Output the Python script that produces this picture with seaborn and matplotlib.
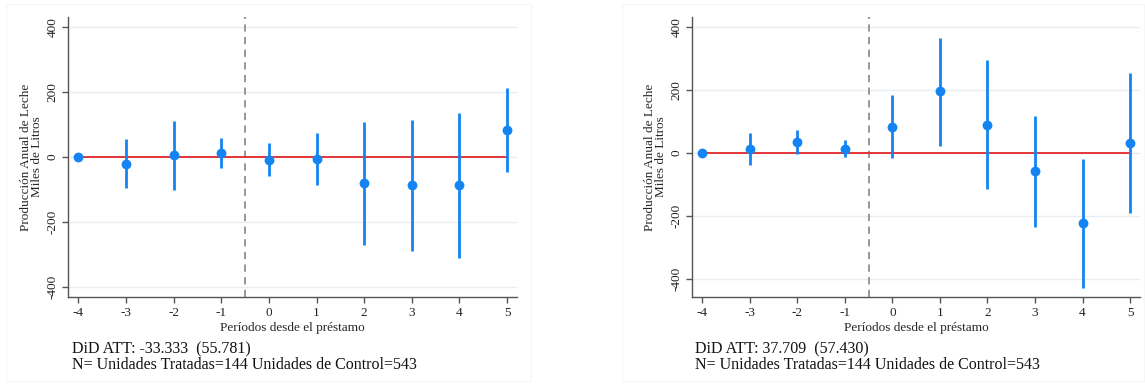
import matplotlib
matplotlib.use("Agg")
import matplotlib.pyplot as plt
from matplotlib.patches import Rectangle
import seaborn as sns
import pandas as pd

periods = [-4, -3, -2, -1, 0, 1, 2, 3, 4, 5]
tick_labels = ["-4", "-3", "-2", "-1", "0", "1", "2", "3", "4", "5"]

left_est = [0, -20.6, 5.1, 12.4, -10.3, -6.2, -81.4, -87.5, -87.5, 82.4]
left_lo = [0, -96.8, -103, -34, -59.7, -86.5, -271, -288, -312, -45.3]
left_hi = [0, 56.6, 112, 58.7, 43.3, 74.2, 108, 114, 136, 211]

right_est = [0, 12.8, 35, 13.8, 84, 195.5, 89.3, -58.4, -223, 31.9]
right_lo = [0, -38.3, -3.2, -13.8, -17, 23.4, -115, -235, -427, -191]
right_hi = [0, 62.7, 74.4, 42.5, 185, 366.6, 294, 118, -19, 254]

y_ticks = [-400, -200, 0, 200, 400]
left_note = "DiD ATT: -33.333  (55.781)\nN= Unidades Tratadas=144 Unidades de Control=543"
right_note = "DiD ATT: 37.709  (57.430)\nN= Unidades Tratadas=144 Unidades de Control=543"
ylabel = "Producción Anual de Leche\nMiles de Litros"
xlabel = "Períodos desde el préstamo"

sns.set_theme(style="white")
plt.rcParams["font.family"] = ["Liberation Serif", "DejaVu Serif"]

W, H = 1145, 385
fig = plt.figure(figsize=(W / 100, H / 100), dpi=100)
fig.patch.set_facecolor("white")

# faint panel frames
for (x0, x1) in [(6, 531), (622, 1144)]:
    fig.patches.append(Rectangle((x0 / W, 4 / H), (x1 - x0) / W, (H - 8) / H,
                                 transform=fig.transFigure, fill=False,
                                 edgecolor="#f6f6f6", linewidth=0.8))

BLUE = "#1384f2"
RED = "#e3262a"

panels = [
    dict(est=left_est, lo=left_lo, hi=left_hi, note=left_note,
         rect=[68 / W, 1 - 297 / H, (517 - 68) / W, (297 - 17) / H],
         ylim=(-431, 431), textx=72 / W),
    dict(est=right_est, lo=right_lo, hi=right_hi, note=right_note,
         rect=[692 / W, 1 - 297 / H, (1140 - 692) / W, (297 - 17) / H],
         ylim=(-457, 432), textx=695 / W),
]

for p in panels:
    ax = fig.add_axes(p["rect"])
    df = pd.DataFrame({"period": periods, "est": p["est"], "lo": p["lo"], "hi": p["hi"]})
    ax.set_xlim(-4.22, 5.21)
    ax.set_ylim(*p["ylim"])
    for yv in y_ticks:
        ax.axhline(yv, color="#e6eef1", lw=1.0, zorder=0)
    ax.axvline(-0.5, color="#8f8f8f", lw=1.3, ls=(0, (4, 3)), zorder=1)
    sns.lineplot(data=pd.DataFrame({"period": [periods[0], periods[-1]], "z": [0, 0]}),
                 x="period", y="z", color=RED, lw=1.3, ax=ax, zorder=2)
    ax.vlines(df["period"], df["lo"], df["hi"], color=BLUE, lw=2.0, zorder=3)
    sns.scatterplot(data=df, x="period", y="est", color=BLUE, s=50, edgecolor=BLUE,
                    linewidth=0, ax=ax, zorder=4)
    ax.set_xticks(periods)
    ax.set_xticklabels(tick_labels, fontsize=9.5)
    ax.set_yticks(y_ticks)
    ax.set_yticklabels([str(v) for v in y_ticks], fontsize=9.5, rotation=90, va="center")
    ax.set_xlabel(xlabel, fontsize=9.5, labelpad=2)
    ax.set_ylabel(ylabel, fontsize=9.5, labelpad=2, linespacing=0.95)
    for s in ["top", "right"]:
        ax.spines[s].set_visible(False)
    for s in ["left", "bottom"]:
        ax.spines[s].set_color("#555555")
        ax.spines[s].set_linewidth(1.0)
    ax.tick_params(axis="both", which="both", direction="out", length=4, width=1.0,
                   color="#555555", labelcolor="#222222", pad=3, bottom=True, left=True)
    ax.grid(False)
    ax.set_facecolor("white")
    fig.text(p["textx"], 1 - 357 / H, p["note"], fontsize=11.5, ha="left", va="center",
             linespacing=1.0, color="#111111")

fig.savefig("out.png", dpi=100, facecolor="white")
